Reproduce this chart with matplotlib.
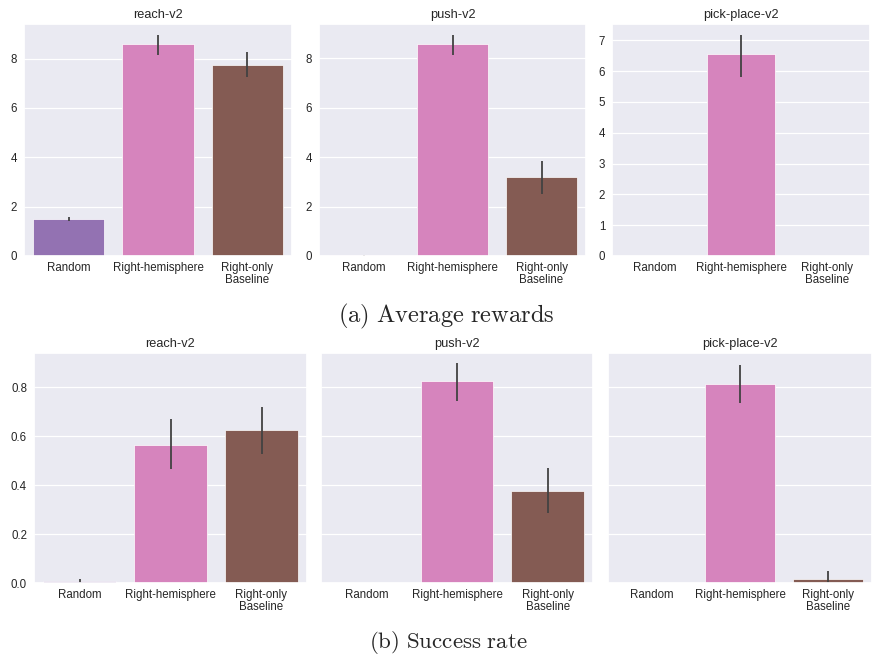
import matplotlib
matplotlib.use("Agg")
import matplotlib.pyplot as plt
import seaborn as sns

sns.set_theme(style="darkgrid")
plt.rcParams['font.family'] = ['Liberation Sans', 'DejaVu Sans']
plt.rcParams['mathtext.fontset'] = 'cm'

methods = ["Random", "Right-hemisphere", "Right-only\nBaseline"]
tasks = ["reach-v2", "push-v2", "pick-place-v2"]

# Average rewards: mean, ci low, ci high
reward_mean = [[1.50, 8.60, 7.74], [0.03, 8.57, 3.18], [0.00, 6.57, 0.005]]
reward_lo = [[1.42, 8.15, 7.24], [0.02, 8.14, 2.51], [0.00, 5.82, 0.0]]
reward_hi = [[1.58, 8.97, 8.27], [0.04, 8.96, 3.86], [0.00, 7.18, 0.01]]
reward_ylim = [9.40, 9.39, 7.53]

# Success rate: mean, ci low, ci high
success_mean = [[0.008, 0.566, 0.626], [0.0, 0.826, 0.376], [0.0, 0.816, 0.015]]
success_lo = [[0.0, 0.465, 0.527], [0.0, 0.746, 0.286], [0.0, 0.736, 0.0]]
success_hi = [[0.016, 0.669, 0.720], [0.002, 0.900, 0.469], [0.0, 0.890, 0.050]]
success_ylim = 0.941

base_colors = ["tab:purple", "tab:pink", "tab:brown"]
colors = [sns.desaturate(c, 0.75) for c in base_colors]

W, H = 872, 662
fig = plt.figure(figsize=(W / 100, H / 100), dpi=100)


def add_ax(x0, x1, y0, y1):
    return fig.add_axes([x0 / W, 1 - y1 / H, (x1 - x0) / W, (y1 - y0) / H])


def style(ax):
    ax.xaxis.grid(False)
    ax.yaxis.grid(True, color="white", linewidth=0.9)
    ax.tick_params(axis='y', labelsize=8.3, length=0, pad=5, labelcolor="#262626")
    ax.tick_params(axis='x', labelsize=8.3, length=0, pad=4, labelcolor="#262626")


top_boxes = [(24, 292), (319, 586), (612, 870)]
bot_boxes = [(34, 307), (321, 593), (608, 872)]

for i, task in enumerate(tasks):
    ax = add_ax(top_boxes[i][0], top_boxes[i][1], 24, 256)
    x = list(range(len(methods)))
    ax.bar(x, reward_mean[i], width=0.8, color=colors, edgecolor="white", linewidth=0.5)
    ax.vlines(x, reward_lo[i], reward_hi[i], color="#424242", linewidth=1.3)
    ax.set_xlim(-0.5, 2.5)
    ax.set_ylim(0, reward_ylim[i])
    ax.set_xticks(x)
    ax.set_xticklabels(methods, linespacing=1.0)
    style(ax)
    ax.set_title(task, fontsize=9.2, pad=4, color="#262626")

fig.text(446 / W, 1 - 316 / H, r"$\mathrm{(a)\ Average\ rewards}$", ha="center", va="center", fontsize=17.6)

for i, task in enumerate(tasks):
    ax = add_ax(bot_boxes[i][0], bot_boxes[i][1], 353, 583)
    x = list(range(len(methods)))
    ax.bar(x, success_mean[i], width=0.8, color=colors, edgecolor="white", linewidth=0.5)
    ax.vlines(x, success_lo[i], success_hi[i], color="#424242", linewidth=1.3)
    ax.set_xlim(-0.5, 2.5)
    ax.set_ylim(0, success_ylim)
    ax.set_yticks([0.0, 0.2, 0.4, 0.6, 0.8])
    ax.set_xticks(x)
    ax.set_xticklabels(methods, linespacing=1.0)
    if i > 0:
        ax.set_yticklabels([])
    else:
        ax.set_yticklabels(["0.0", "0.2", "0.4", "0.6", "0.8"])
    style(ax)
    ax.set_title(task, fontsize=9.2, pad=4, color="#262626")

fig.text(448 / W, 1 - 643 / H, r"$\mathrm{(b)\ Success\ rate}$", ha="center", va="center", fontsize=16.5)

fig.savefig("out.png", dpi=100)
